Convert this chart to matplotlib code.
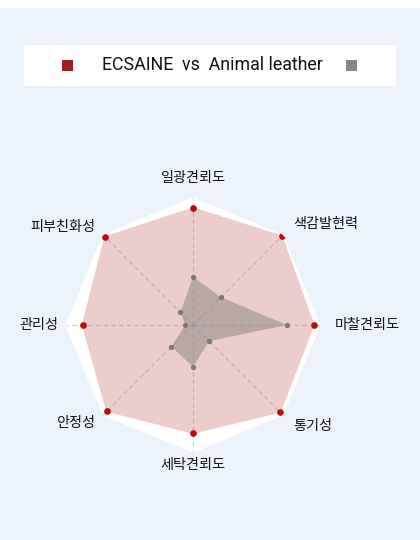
import numpy as np
import matplotlib
matplotlib.use("Agg")
import matplotlib.pyplot as plt
from matplotlib.patches import Rectangle

plt.rcParams['font.family'] = ['Noto Sans CJK KR', 'DejaVu Sans']

# data (0-5 scale, clockwise from top)
categories = ['일광견뢰도', '색감발현력', '마찰견뢰도', '통기성',
              '세탁견뢰도', '안정성', '관리성', '피부친화성']
ecsaine = [4.6, 4.95, 4.75, 4.85, 4.25, 4.8, 4.35, 4.9]
animal_leather = [1.9, 1.55, 3.7, 0.9, 1.65, 1.2, 0.3, 0.7]
r_max = 5
legend_text = 'ECSAINE  vs  Animal leather'

bg = '#ebf2fa'
red_fill = '#edcdcb'
red_dot = '#b80d0d'
gray_fill = '#7d7d7d'
gray_dot = '#7a7a7a'

fig = plt.figure(figsize=(4.2, 5.4), dpi=100, facecolor=bg)

# white strip at the very top
fig.patches.append(Rectangle((0, 1 - 8 / 540), 1, 8 / 540, transform=fig.transFigure,
                             facecolor='white', edgecolor='none', zorder=0))

# legend box
fig.patches.append(Rectangle((24 / 420, 1 - 86 / 540), 372 / 420, 41 / 540,
                             transform=fig.transFigure, facecolor='white',
                             edgecolor='none', zorder=1))
fig.patches.append(Rectangle((62 / 420, 1 - 70.5 / 540), 11 / 420, 11 / 540,
                             transform=fig.transFigure, facecolor='#9b1f23',
                             edgecolor='none', zorder=2))
fig.patches.append(Rectangle((346 / 420, 1 - 70.5 / 540), 11 / 420, 11 / 540,
                             transform=fig.transFigure, facecolor='#8a8482',
                             edgecolor='none', zorder=2))
fig.text(212.5 / 420, 1 - 65 / 540, legend_text, ha='center', va='center',
         fontsize=12.8, family=['Roboto', 'DejaVu Sans'], color='#111111')

# radar
ax = fig.add_axes([66 / 420, (540 - 325 - 127) / 540, 254 / 420, 254 / 540],
                  projection='polar')
ax.set_theta_offset(np.pi / 2)
ax.set_theta_direction(-1)
ax.patch.set_alpha(0)
ax.spines['polar'].set_visible(False)
ax.grid(False)
ax.set_xticks([])
ax.set_yticks([])
ax.set_ylim(0, r_max)

n = len(categories)
angles = np.linspace(0, 2 * np.pi, n, endpoint=False)
ang_c = np.append(angles, angles[0])

ax.fill(ang_c, [r_max] * (n + 1), color='white', zorder=1)

vals = np.append(ecsaine, ecsaine[0])
ax.fill(ang_c, vals, color=red_fill, zorder=2)

vals2 = np.append(animal_leather, animal_leather[0])
ax.fill(ang_c, vals2, color=gray_fill, alpha=0.45, linewidth=0, zorder=3)

for a in angles:
    ax.plot([a, a], [0, r_max], ls=(0, (4, 3)), lw=0.8, color='#8a8a8a',
            alpha=0.45, zorder=4)

ax.plot(angles, ecsaine, 'o', ms=3.8, color=red_dot, zorder=5)
ax.plot(angles, animal_leather, 'o', ms=2.8, color=gray_dot, zorder=5)

for a, lab in zip(angles, categories):
    s = np.sin(a)
    c = np.cos(a)
    if abs(s) < 0.1:
        ha = 'center'
    elif s > 0:
        ha = 'left'
    else:
        ha = 'right'
    if c > 0.9:
        r = 5.8
    elif c < -0.9:
        r = 5.5
    elif s < -0.9:
        r = 5.3
    elif s < 0:
        r = 5.45
    else:
        r = 5.6
    ax.text(a, r, lab, ha=ha, va='center', fontsize=10.2, color='#111111',
            zorder=6)

fig.savefig('out.png', dpi=100, facecolor=bg)
